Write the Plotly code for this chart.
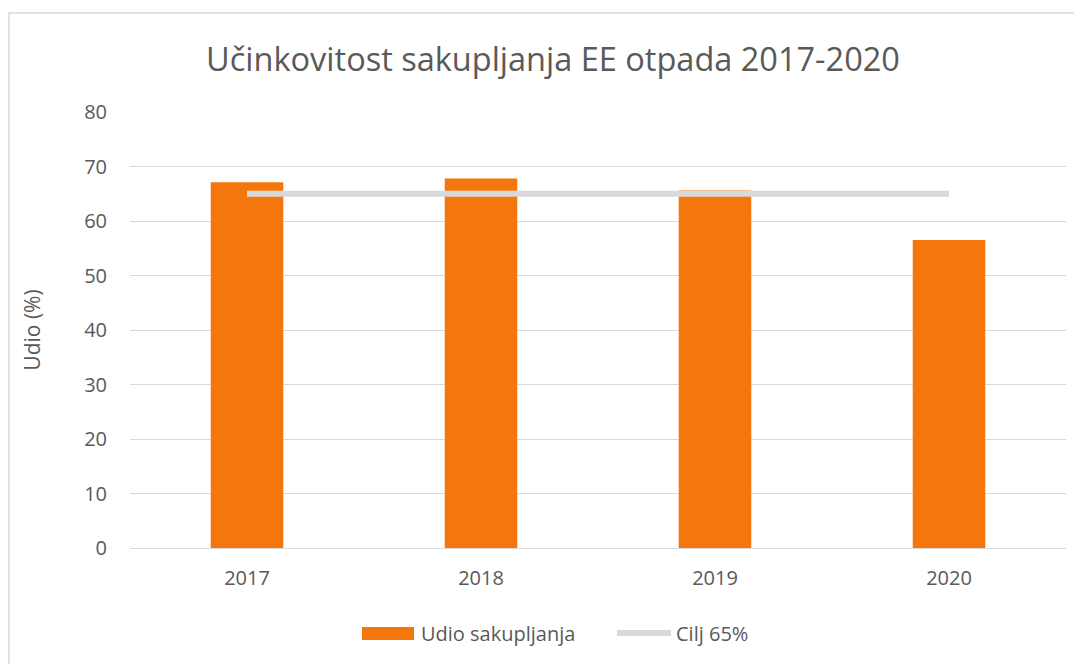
import plotly.graph_objects as go

years = ["2017", "2018", "2019", "2020"]
udio_sakupljanja = [67.1, 67.8, 65.6, 56.5]
cilj = [65, 65, 65, 65]
y_ticks = [0, 10, 20, 30, 40, 50, 60, 70, 80]
legend_names = ["Udio sakupljanja", "Cilj 65%"]

ORANGE = "#F4770D"
GREY = "#D9D9D9"
TEXT = "#595959"
FONT = "Open Sans"

# the page body adds an 8px offset; compensate
OFF = 8
W, H = 1082 - OFF, 664 - OFF
PL, PR, PT, PB = 130, 1066, 112, 548  # plot area in screen px


def px(sx):
    return (sx - PL) / (PR - PL)


def py(sy):
    return (PB - sy) / (PB - PT)


fig = go.Figure()
fig.add_trace(go.Bar(
    x=years, y=udio_sakupljanja, name=legend_names[0],
    marker=dict(color=ORANGE, line=dict(width=0)),
    showlegend=False,
))
fig.add_trace(go.Scatter(
    x=years, y=cilj, name=legend_names[1], mode="lines",
    line=dict(color=GREY, width=6),
    showlegend=False,
))

shapes = [
    # outer chart border
    dict(type="rect", xref="paper", yref="paper",
         x0=px(9), x1=px(1100), y0=py(680), y1=py(13),
         line=dict(color=GREY, width=1.5), fillcolor="rgba(0,0,0,0)",
         layer="below"),
    # legend symbols
    dict(type="rect", xref="paper", yref="paper",
         x0=px(362), x1=px(414), y0=py(640), y1=py(627),
         line=dict(width=0), fillcolor=ORANGE),
    dict(type="line", xref="paper", yref="paper",
         x0=px(617), x1=px(671), y0=py(633), y1=py(633),
         line=dict(color=GREY, width=6)),
]

annotations = [
    dict(text=legend_names[0], xref="paper", yref="paper",
         x=px(419), y=py(633), xanchor="left", yanchor="middle",
         showarrow=False, font=dict(size=20, color=TEXT, family=FONT)),
    dict(text=legend_names[1], xref="paper", yref="paper",
         x=px(674), y=py(633), xanchor="left", yanchor="middle",
         showarrow=False, font=dict(size=20, color=TEXT, family=FONT)),
]

fig.update_layout(
    width=W, height=H,
    margin=dict(l=PL - OFF, r=1082 - PR, t=PT - OFF, b=664 - PB),
    paper_bgcolor="white", plot_bgcolor="white",
    font=dict(family=FONT, color=TEXT, size=20),
    bargap=0.69,
    title=dict(
        text="Učinkovitost sakupljanja EE otpada 2017-2020",
        x=(553 - OFF) / W, xanchor="center", y=1 - (60 - OFF) / H, yanchor="middle",
        font=dict(size=32.5, color=TEXT, family=FONT),
    ),
    xaxis=dict(
        showgrid=False, showline=True, linecolor=GREY, linewidth=1,
        ticks="", ticklabelstandoff=12, tickfont=dict(size=20, color=TEXT),
    ),
    yaxis=dict(
        range=[0, 80], tickvals=y_ticks, showgrid=True, gridcolor=GREY,
        gridwidth=1, zeroline=False, showline=False, ticks="",
        ticklabelstandoff=22,
        tickfont=dict(size=20, color=TEXT),
        title=dict(text="Udio (%)", font=dict(size=21, color=TEXT), standoff=37),
    ),
    showlegend=False,
    shapes=shapes,
    annotations=annotations,
)

fig.write_html("out.html")
